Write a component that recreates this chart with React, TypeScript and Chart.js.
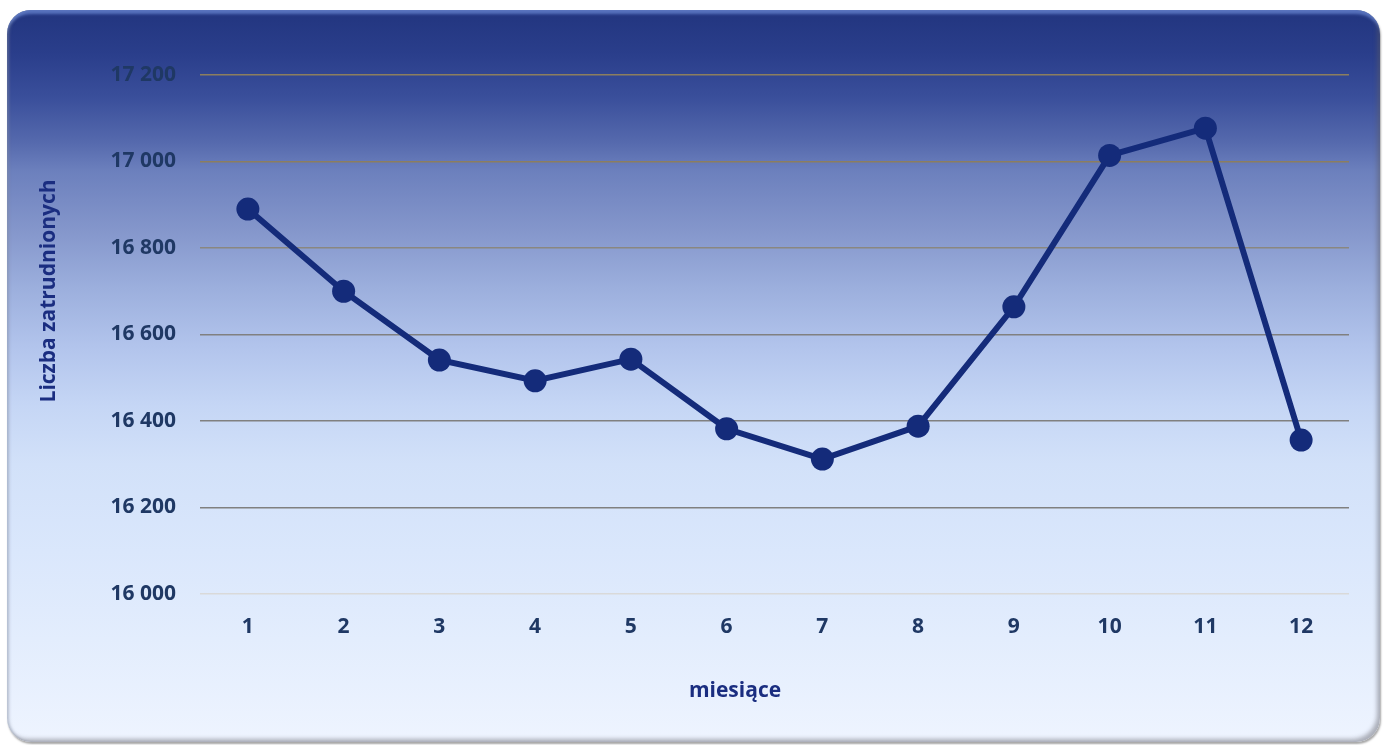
import React, { useEffect, useRef } from "react";
import { Chart, registerables } from "chart.js";

Chart.register(...registerables);

const months = ["1", "2", "3", "4", "5", "6", "7", "8", "9", "10", "11", "12"];
const employees = [16890, 16700, 16541, 16493, 16543, 16382, 16312, 16388, 16664, 17014, 17077, 16356];
const yMin = 16000;
const yMax = 17200;
const yStep = 200;
const xTitle = "miesiące";
const yTitle = "Liczba zatrudnionych";

const FONT = "'Open Sans'";

const fmt = (v: number) => String(Math.round(v)).replace(/\B(?=(\d{3})+(?!\d))/g, " ");

const gridColor = (v: number) => {
  if (v === 16000) return "#d9d9d9";
  if (v >= 17000) return "#8c7e5e";
  if (v === 16800) return "#8a8780";
  return "#808080";
};

const axisTitlesPlugin = {
  id: "axisTitlesPlugin",
  afterDraw(chart: any) {
    const ctx = chart.ctx;
    ctx.save();
    ctx.font = "bold 21px 'Open Sans'";
    ctx.fillStyle = "#1a2d80";
    ctx.textAlign = "center";
    ctx.textBaseline = "middle";
    ctx.fillText(xTitle, 735, 691);
    ctx.translate(49, 291);
    ctx.rotate(-Math.PI / 2);
    ctx.fillText(yTitle, 0, 0);
    ctx.restore();
  },
};

export default function App() {
  const ref = useRef<HTMLCanvasElement>(null);
  useEffect(() => {
    if (!ref.current) return;
    const chart = new Chart(ref.current, {
      type: "line",
      data: {
        labels: months,
        datasets: [
          {
            data: employees,
            borderColor: "#142b7a",
            backgroundColor: "#142b7a",
            borderWidth: 6,
            pointRadius: 11.5,
            pointHoverRadius: 11.5,
            pointBackgroundColor: "#142b7a",
            pointBorderWidth: 0,
            tension: 0,
          },
        ],
      },
      options: {
        animation: false,
        responsive: false,
        maintainAspectRatio: false,
        layout: { padding: { top: 75, right: 35, left: 0, bottom: 0 } },
        plugins: { legend: { display: false }, tooltip: { enabled: false } },
        scales: {
          x: {
            offset: true,
            grid: { display: false, drawTicks: false },
            border: { display: false },
            ticks: {
              color: "#1f3864",
              font: { family: FONT, weight: "bold", size: 21 },
              padding: 20,
            },
            afterFit: (s: any) => {
              s.height = 151;
            },
          },
          y: {
            min: yMin,
            max: yMax,
            ticks: {
              stepSize: yStep,
              color: "#1f3864",
              font: { family: FONT, weight: "bold", size: 21 },
              padding: 24,
              callback: (v: any) => fmt(Number(v)),
            },
            grid: {
              drawTicks: false,
              lineWidth: 1.5,
              color: (c: any) => gridColor(c.tick ? c.tick.value : 0),
            },
            border: { display: false },
            afterFit: (s: any) => {
              s.width = 200;
            },
          },
        },
      },
      plugins: [axisTitlesPlugin],
    });
    return () => chart.destroy();
  }, []);

  return (
    <div style={{ position: "absolute", left: 0, top: 0, width: 1384, height: 745, background: "#ffffff" }}>
      <div
        style={{
          position: "absolute",
          left: 7,
          top: 10,
          width: 1373,
          height: 732,
          borderRadius: 24,
          background:
            "linear-gradient(to bottom, #22357f 0%, #2a3e8b 6%, #3a4f9b 12%, #5569ad 18%, #6c80bd 22%, #8496cb 30%, #9cafdd 38%, #b2c4ec 46%, #c5d6f5 54%, #d2e1f9 62%, #dae7fc 74%, #e3edfd 86%, #eef4ff 100%)",
          boxShadow:
            "inset 0 7px 3px -3px rgba(110,140,215,0.7), inset -4px -4px 4px -1px rgba(90,90,100,0.45), inset 3px 0 3px -1px rgba(130,140,160,0.5), 1px 2px 2px rgba(0,0,0,0.35)",
        }}
      />
      <canvas ref={ref} width={1384} height={745} style={{ position: "absolute", left: 0, top: 0 }} />
    </div>
  );
}
